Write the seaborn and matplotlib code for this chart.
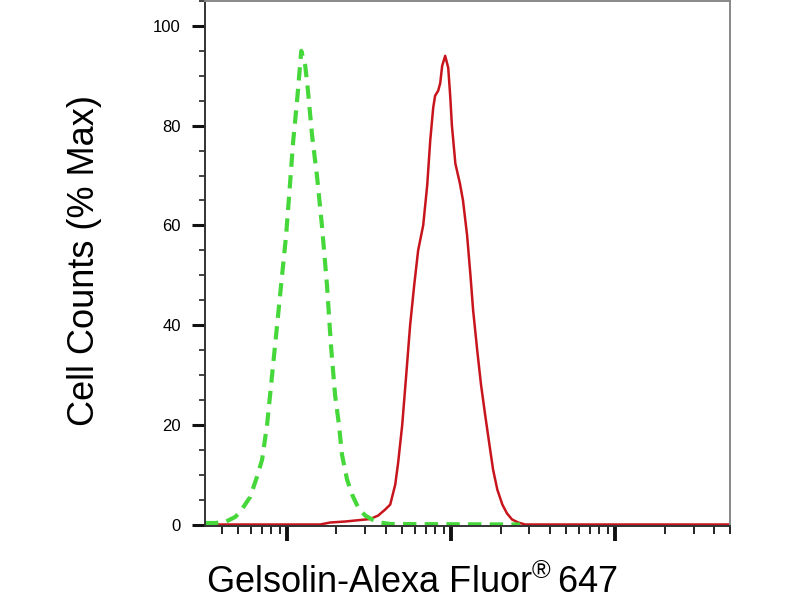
import seaborn as sns
import pandas as pd
import matplotlib
matplotlib.use("Agg")
import matplotlib.pyplot as plt
from matplotlib.ticker import MultipleLocator, NullFormatter, LogLocator

# isotype control (green dashed) - fluorescence intensity vs % max
ctrl_x = [3.16, 3.64, 4.19, 4.82, 5.17, 5.95, 6.56, 7.04, 7.55, 7.99, 8.57, 9.19,
          9.86, 10.4, 10.9, 11.5, 12.2, 12.9, 13.4, 14.2, 15.2, 16.3, 17.5, 18.5,
          19.6, 20.7, 21.6, 23.2, 24.9, 27.1, 29.9, 33.0, 36.9, 42.5, 263]
ctrl_y = [0.3, 0.3, 0.5, 1.5, 2.5, 5.5, 9.6, 13, 20, 28, 38, 48,
          58, 68, 77, 85, 95, 92, 87, 78, 70, 60, 48, 36,
          26, 20, 14, 9, 6, 3.4, 1.8, 1.0, 0.4, 0.1, 0]

# Gelsolin stained sample (red)
gsn_x = [3.16, 15.9, 18.3, 22.6, 27.9, 32.1, 35.9, 39.6, 42.5, 45.6, 47.5, 50.3,
         53.2, 56.2, 59.5, 62.9, 67.5, 71.4, 74.5, 77.7, 79.8, 83.3, 85.7, 88.1,
         91.9, 95.9, 98.6, 101, 106, 113, 118, 125, 131, 136, 144, 152, 161, 171,
         180, 191, 205, 219, 235, 256, 282, 5000]
gsn_y = [0, 0, 0.4, 0.6, 0.9, 1.1, 1.8, 3, 4, 8, 12.4, 20,
         30, 40, 48, 55, 60, 68, 77, 83.6, 86, 87, 88.5, 92,
         94, 91.6, 86, 80, 72.4, 68.4, 65, 58, 50, 43, 35, 28, 22, 16,
         11, 7, 4, 2.2, 1, 0.4, 0, 0]

y_ticks = [0, 20, 40, 60, 80, 100]

sns.set_theme(style="white")
plt.rcParams['font.family'] = ['Liberation Sans', 'DejaVu Sans']
plt.rcParams['mathtext.fontset'] = 'custom'
plt.rcParams['mathtext.rm'] = 'Liberation Sans'
plt.rcParams['text.color'] = 'black'
plt.rcParams['ytick.labelcolor'] = 'black'

fig = plt.figure(figsize=(8, 6), dpi=100)
ax = fig.add_axes([205 / 800, 1 - 526 / 600, 525 / 800, 525 / 600])

sns.lineplot(x=gsn_x, y=gsn_y, ax=ax, color='#c8141c', linewidth=1.8, estimator=None, sort=False)
sns.lineplot(x=ctrl_x, y=ctrl_y, ax=ax, color='#46d83a', linewidth=3.0, estimator=None, sort=False,
             dashes=False)
ax.lines[-1].set_dashes((3.2, 2.0))

ax.set_xscale('log')
ax.set_xlim(3.16, 5000)
ax.set_ylim(-0.3, 105)
ax.xaxis.set_major_locator(LogLocator(base=10))
ax.xaxis.set_minor_locator(LogLocator(base=10, subs=range(2, 10)))
ax.xaxis.set_major_formatter(NullFormatter())
ax.xaxis.set_minor_formatter(NullFormatter())
ax.set_yticks(y_ticks)
ax.yaxis.set_minor_locator(MultipleLocator(5))

ax.tick_params(axis='y', which='major', direction='out', length=9.5, width=2.2, color='#111111',
               labelsize=12, pad=8, left=True, labelcolor='black')
ax.tick_params(axis='y', which='minor', direction='out', length=4.3, width=1.1, color='#111111', left=True)
ax.tick_params(axis='x', which='major', direction='out', length=11, width=2.8, color='#111111', bottom=True)
ax.tick_params(axis='x', which='minor', direction='out', length=6, width=1.3, color='#111111', bottom=True)

for side in ['left', 'bottom']:
    ax.spines[side].set_color('#333333')
    ax.spines[side].set_linewidth(1.4)
for side in ['top', 'right']:
    ax.spines[side].set_color('#888888')
    ax.spines[side].set_linewidth(1.4)

ax.set_xlabel('')
ax.set_ylabel('')
fig.text(85 / 800, 1 - 260 / 600, 'Cell Counts (% Max)', rotation=90, fontsize=26,
         ha='center', va='center', color='black')
fig.text(412 / 800, 1 - 583 / 600, 'Gelsolin-Alexa Fluor$^{\\mathrm{®}}\\,$647', fontsize=26,
         ha='center', va='center', color='black')

fig.savefig('out.png', dpi=100)
